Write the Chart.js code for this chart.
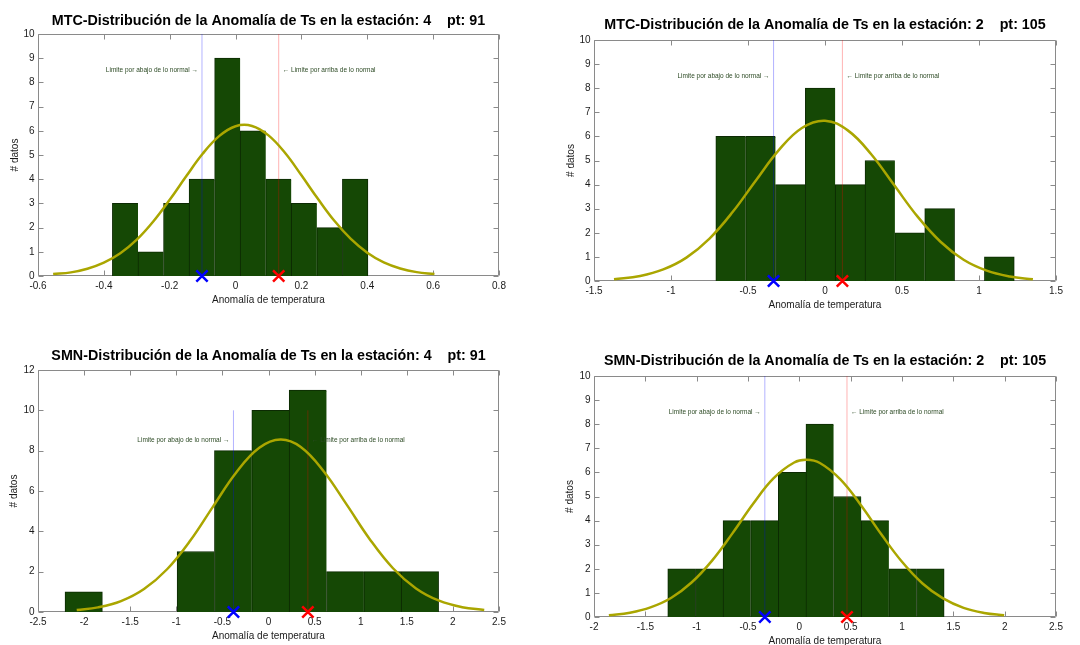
<!DOCTYPE html>
<html>
<head>
<meta charset="utf-8">
<script src="https://cdn.jsdelivr.net/npm/chart.js@4.4.1/dist/chart.umd.min.js"></script>
<style>
  html, body { margin: 0; padding: 0; background: #fff; }
  body { width: 1080px; height: 645px; position: relative; overflow: hidden; }
  canvas { position: absolute; display: block; }
</style>
</head>
<body>
<canvas id="mtc4" width="540" height="322" style="left:0;top:0"></canvas>
<canvas id="mtc2" width="540" height="322" style="left:540px;top:0"></canvas>
<canvas id="smn4" width="540" height="323" style="left:0;top:322px"></canvas>
<canvas id="smn2" width="540" height="323" style="left:540px;top:322px"></canvas>
<script>
// ---- MTC, estación 4 ----
const mtc4BinCenters = [-0.3352, -0.2576, -0.1800, -0.1024, -0.0248, 0.0528, 0.1304, 0.2080, 0.2856, 0.3632];
const mtc4Counts = [3, 1, 3, 4, 9, 6, 4, 3, 2, 4];
const mtc4CurveX = [-0.554, -0.50, -0.45, -0.40, -0.35, -0.30, -0.25, -0.20, -0.15, -0.10, -0.05, 0.00, 0.05, 0.10, 0.15, 0.20, 0.25, 0.30, 0.35, 0.40, 0.45, 0.50, 0.55, 0.604];
const mtc4CurveY = [0.08, 0.15, 0.30, 0.55, 0.94, 1.50, 2.25, 3.15, 4.12, 5.05, 5.78, 6.19, 6.20, 5.81, 5.09, 4.16, 3.19, 2.28, 1.53, 0.96, 0.56, 0.31, 0.16, 0.08];
const mtc4Limits = [-0.102, 0.131];   // [abajo, arriba]

// ---- MTC, estación 2 ----
const mtc2BinCenters = [-0.6121, -0.4183, -0.2245, -0.0307, 0.1631, 0.3569, 0.5507, 0.7445, 0.9383, 1.1321];
const mtc2Counts = [6, 6, 4, 8, 4, 5, 2, 3, 0, 1];
const mtc2CurveX = [-1.37, -1.20, -1.05, -0.90, -0.75, -0.60, -0.45, -0.30, -0.15, 0.00, 0.15, 0.30, 0.45, 0.60, 0.75, 0.90, 1.05, 1.20, 1.35];
const mtc2CurveY = [0.07, 0.21, 0.48, 0.97, 1.76, 2.86, 4.16, 5.43, 6.35, 6.65, 6.24, 5.26, 3.97, 2.68, 1.63, 0.88, 0.43, 0.19, 0.07];
const mtc2Limits = [-0.334, 0.113];

// ---- SMN, estación 4 ----
const smn4BinCenters = [-2.0044, -1.5992, -1.1940, -0.7888, -0.3836, 0.0216, 0.4268, 0.8320, 1.2372, 1.6424];
const smn4Counts = [1, 0, 0, 3, 8, 10, 11, 2, 2, 2];
const smn4CurveX = [-2.08, -1.85, -1.60, -1.35, -1.10, -0.85, -0.60, -0.35, -0.10, 0.13, 0.35, 0.60, 0.85, 1.10, 1.35, 1.60, 1.85, 2.10, 2.34];
const smn4CurveY = [0.10, 0.23, 0.54, 1.14, 2.12, 3.53, 5.24, 6.92, 8.14, 8.55, 8.18, 6.97, 5.31, 3.60, 2.17, 1.17, 0.56, 0.24, 0.10];
const smn4Limits = [-0.380, 0.427];

// ---- SMN, estación 2 ----
const smn2BinCenters = [-1.1469, -0.8777, -0.6085, -0.3393, -0.0701, 0.1991, 0.4683, 0.7375, 1.0067, 1.2759];
const smn2Counts = [2, 2, 4, 4, 6, 8, 5, 4, 2, 2];
const smn2CurveX = [-1.855, -1.65, -1.45, -1.25, -1.05, -0.85, -0.65, -0.45, -0.25, -0.05, 0.07, 0.20, 0.40, 0.60, 0.80, 1.00, 1.20, 1.40, 1.60, 1.80, 1.995];
const smn2CurveY = [0.07, 0.18, 0.40, 0.79, 1.43, 2.34, 3.48, 4.70, 5.76, 6.41, 6.52, 6.39, 5.71, 4.64, 3.42, 2.29, 1.39, 0.77, 0.38, 0.17, 0.07];
const smn2Limits = [-0.336, 0.464];

// height reached by the limit lines and position of their labels
const limitLineTop = 10;
const limitLabelY = 8.5;

const FONT = "'Liberation Sans', Arial, Helvetica, sans-serif";
const TEXT = '#1a1a1a';
const BOX = '#8a8a8a';
const BAR_FILL = '#154805';
const BAR_EDGE = '#0c2a03';
const CURVE = '#aaa600';

Chart.defaults.font.family = FONT;
Chart.defaults.color = TEXT;

// Box around the axes with inward tick marks on all four sides
const boxAxes = {
  id: 'boxAxes',
  beforeDatasetsDraw(chart, args, opts) {
    const { ctx, chartArea: a, scales: { x, y } } = chart;
    const L = Math.round(a.left) + 0.5, R = Math.round(a.right) - 0.5;
    const T = Math.round(a.top) + 0.5, B = Math.round(a.bottom) - 0.5;
    const len = opts.len;
    ctx.save();
    ctx.strokeStyle = opts.color;
    ctx.lineWidth = 1;
    ctx.beginPath();
    ctx.rect(L, T, R - L, B - T);
    for (const t of x.ticks) {
      const px = Math.round(x.getPixelForValue(t.value)) + 0.5;
      ctx.moveTo(px, B); ctx.lineTo(px, B - len);
      ctx.moveTo(px, T); ctx.lineTo(px, T + len);
    }
    for (const t of y.ticks) {
      const py = Math.round(y.getPixelForValue(t.value)) + 0.5;
      ctx.moveTo(L, py); ctx.lineTo(L + len, py);
      ctx.moveTo(R, py); ctx.lineTo(R - len, py);
    }
    ctx.stroke();
    ctx.restore();
  }
};

// Text next to the lower / upper limit lines
const limitLabels = {
  id: 'limitLabels',
  afterDatasetsDraw(chart, args, opts) {
    const { ctx, scales: { x, y } } = chart;
    const py = y.getPixelForValue(opts.y);
    ctx.save();
    ctx.font = opts.size + 'px ' + FONT;
    ctx.fillStyle = opts.color;
    ctx.textBaseline = 'middle';
    ctx.textAlign = 'right';
    ctx.fillText('Limite por abajo de lo normal \u2192', x.getPixelForValue(opts.lower) - opts.gap, py);
    ctx.textAlign = 'left';
    ctx.fillText('\u2190 Limite por arriba de lo normal', x.getPixelForValue(opts.upper) + opts.gap, py);
    ctx.restore();
  }
};

const fmtTick = v => String(Number(Number(v).toFixed(3)));

function histPanel(id, p) {
  const canvas = document.getElementById(id);
  const W = canvas.width, H = canvas.height;
  const titleSize = 14.3, titleLH = titleSize * 1.2;
  const labelSize = 10, labelLH = labelSize * 1.2;
  const xScaleH = H - p.area.bottom;
  const titleTop = p.titleY - titleLH / 2;

  new Chart(canvas, {
    type: 'bar',
    data: {
      datasets: [
        {
          type: 'line', label: 'marcas',
          data: [{ x: p.limits[0], y: 0 }, { x: p.limits[1], y: 0 }],
          showLine: false,
          pointStyle: 'crossRot', pointRadius: 8, pointBorderWidth: 2.5,
          pointBorderColor: ['#0000ff', '#ff0000'], pointBackgroundColor: 'transparent',
          clip: false, order: 0
        },
        {
          type: 'line', label: 'normal',
          data: p.curveX.map((x, i) => ({ x, y: p.curveY[i] })),
          borderColor: CURVE, borderWidth: 2.5, pointRadius: 0,
          tension: 0.4, fill: false, order: 1
        },
        {
          type: 'line', label: 'abajo',
          data: [{ x: p.limits[0], y: 0 }, { x: p.limits[0], y: limitLineTop }],
          borderColor: 'rgba(0,0,255,0.3)', borderWidth: 1, pointRadius: 0, order: 2
        },
        {
          type: 'line', label: 'arriba',
          data: [{ x: p.limits[1], y: 0 }, { x: p.limits[1], y: limitLineTop }],
          borderColor: 'rgba(255,0,0,0.3)', borderWidth: 1, pointRadius: 0, order: 2
        },
        {
          type: 'bar', label: 'datos',
          data: p.centers.map((x, i) => ({ x, y: p.counts[i] })),
          backgroundColor: BAR_FILL, borderColor: BAR_EDGE,
          borderWidth: c => ({ top: 1, left: 1, bottom: 0, right: p.counts[c.dataIndex + 1] ? 0 : 1 }),
          borderSkipped: false,
          barPercentage: 1, categoryPercentage: 1, order: 3
        }
      ]
    },
    options: {
      responsive: false,
      animation: false,
      events: [],
      layout: { padding: { left: 0, top: 0, bottom: 0, right: W - p.area.right } },
      plugins: {
        legend: { display: false },
        tooltip: { enabled: false },
        title: {
          display: true, text: p.title, fullSize: false,
          color: '#000',
          font: { family: FONT, size: titleSize, weight: 'bold', lineHeight: 1.2 },
          padding: { top: titleTop, bottom: p.area.top - titleTop - titleLH }
        },
        boxAxes: { color: BOX, len: 5 },
        limitLabels: { lower: p.limits[0], upper: p.limits[1], y: limitLabelY, size: 6.5, gap: 4, color: '#2c4a24' }
      },
      scales: {
        x: {
          type: 'linear', min: p.xMin, max: p.xMax, offset: false,
          grid: { display: false, drawTicks: false },
          border: { display: false },
          ticks: { stepSize: p.xStep, callback: fmtTick, padding: 4, maxRotation: 0, autoSkip: false,
                   font: { size: labelSize }, color: TEXT },
          title: { display: true, text: 'Anomalía de temperatura', color: TEXT,
                   font: { size: labelSize, lineHeight: 1.2 },
                   padding: { top: 0, bottom: xScaleH - 24 - labelLH / 2 } },
          afterFit: s => { s.height = xScaleH; s.paddingLeft = 0; s.paddingRight = 0; }
        },
        y: {
          type: 'linear', min: 0, max: p.yMax,
          grid: { display: false, drawTicks: false },
          border: { display: false },
          ticks: { stepSize: p.yStep, callback: fmtTick, padding: 3.5, font: { size: labelSize }, color: TEXT },
          title: { display: true, text: '# datos', color: TEXT,
                   font: { size: labelSize, lineHeight: 1.2 },
                   padding: { top: p.yTitleX - labelLH / 2, bottom: 0 } },
          afterFit: s => { s.width = p.area.left; s.paddingTop = 0; s.paddingBottom = 0; }
        }
      }
    },
    plugins: [boxAxes, limitLabels]
  });
}

histPanel('mtc4', {
  title: 'MTC-Distribución de la Anomalía de Ts en la estación: 4    pt: 91',
  centers: mtc4BinCenters, counts: mtc4Counts, curveX: mtc4CurveX, curveY: mtc4CurveY, limits: mtc4Limits,
  xMin: -0.6, xMax: 0.8, xStep: 0.2, yMax: 10, yStep: 1,
  area: { left: 38, right: 499, top: 34, bottom: 276 }, titleY: 20.7, yTitleX: 15
});
histPanel('mtc2', {
  title: 'MTC-Distribución de la Anomalía de Ts en la estación: 2    pt: 105',
  centers: mtc2BinCenters, counts: mtc2Counts, curveX: mtc2CurveX, curveY: mtc2CurveY, limits: mtc2Limits,
  xMin: -1.5, xMax: 1.5, xStep: 0.5, yMax: 10, yStep: 1,
  area: { left: 54, right: 516, top: 40, bottom: 281 }, titleY: 25.3, yTitleX: 31
});
histPanel('smn4', {
  title: 'SMN-Distribución de la Anomalía de Ts en la estación: 4    pt: 91',
  centers: smn4BinCenters, counts: smn4Counts, curveX: smn4CurveX, curveY: smn4CurveY, limits: smn4Limits,
  xMin: -2.5, xMax: 2.5, xStep: 0.5, yMax: 12, yStep: 2,
  area: { left: 38, right: 499, top: 48, bottom: 290 }, titleY: 34, yTitleX: 14
});
histPanel('smn2', {
  title: 'SMN-Distribución de la Anomalía de Ts en la estación: 2    pt: 105',
  centers: smn2BinCenters, counts: smn2Counts, curveX: smn2CurveX, curveY: smn2CurveY, limits: smn2Limits,
  xMin: -2, xMax: 2.5, xStep: 0.5, yMax: 10, yStep: 1,
  area: { left: 54, right: 516, top: 54, bottom: 295 }, titleY: 39, yTitleX: 30.7
});
</script>
</body>
</html>
